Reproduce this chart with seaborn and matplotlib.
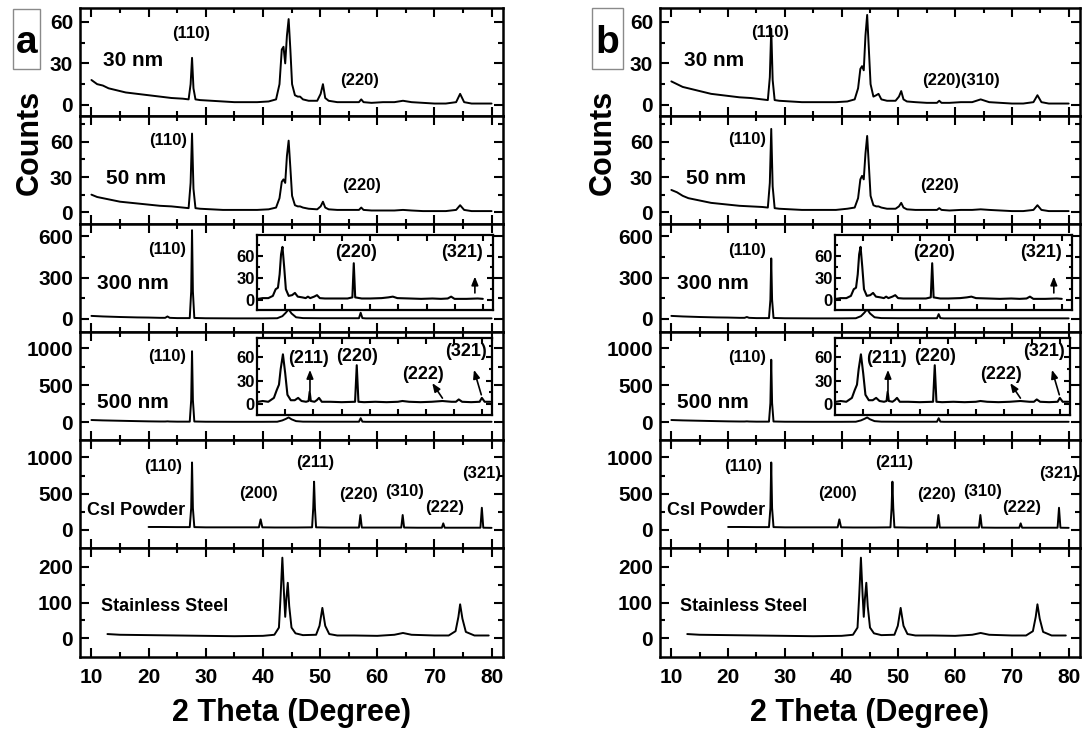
import matplotlib
matplotlib.use("Agg")
import matplotlib.pyplot as plt
import seaborn as sns
from matplotlib.patches import Rectangle
from matplotlib.ticker import FixedLocator

# ---------------- data ----------------
X_FILM = [10, 11, 12, 13, 14, 15, 16, 17, 18,
          20, 22, 24, 26,
          27.0, 27.35, 27.6, 27.85, 28.2,
          29, 31, 33, 35, 37, 39, 41,
          42.3, 42.9, 43.3, 43.6, 43.9, 44.2, 44.5, 44.8, 45.1, 45.6,
          46.1, 46.5, 47.0, 48, 49.5,
          50.1, 50.5, 50.9, 51.5,
          53, 55, 56.8, 57.2, 57.6,
          59, 61, 63, 64.5, 66, 68, 70, 72,
          73.8, 74.5, 75.2, 76.5, 78, 80]
Y_30NM_A = [18, 15, 14, 12, 11, 10, 9, 8.5, 8,
            7, 6, 5, 4.5,
            4, 15, 34, 12, 4,
            3.5, 3, 2.5, 2, 2, 2, 2.5,
            4, 15, 40, 42, 30, 50, 62, 40, 15, 7,
            6, 6, 4, 3, 3,
            8, 15, 5, 3,
            2, 2, 2, 4, 2,
            1.5, 2, 2, 3, 2, 1.5, 1, 1,
            2, 8, 2, 1, 1, 1]
Y_30NM_B = [17, 15, 13, 12, 11, 10, 9, 8, 7.5,
            6.5, 5.5, 5, 4,
            3.5, 20, 55, 18, 3.5,
            3, 2.5, 2, 2, 2, 2, 2.5,
            4, 12, 26, 28, 25, 50, 65, 40, 15, 6,
            7, 8, 4, 3, 3,
            6, 10, 4, 2.5,
            2, 1.5, 1.5, 3, 1.5,
            1.5, 2, 2, 4, 2, 1.5, 1, 1,
            2, 7, 2, 1, 1, 1]
Y_50NM_A = [15, 13, 12, 11, 10, 9, 8.5, 8, 7.5,
            6.5, 5.5, 5, 4,
            3.5, 25, 67, 20, 3.5,
            3, 2.5, 2, 2, 2, 2, 2.5,
            4, 12, 26, 28, 25, 48, 61, 38, 14, 6,
            5, 5, 4, 3, 2.5,
            5, 9, 4, 2.5,
            2, 2, 2, 4, 2,
            1.5, 1.5, 1.5, 2, 1.5, 1, 1, 1,
            2, 6, 2, 1, 1, 1]
Y_50NM_B = [19, 17, 14, 12, 11, 10, 9, 8, 7.5,
            6.5, 5.5, 5, 4.5,
            4, 25, 71, 22, 3.5,
            3, 2.5, 2, 2, 2, 2, 3,
            4, 12, 28, 31, 28, 50, 65, 40, 14, 6,
            5, 5, 4, 3, 3,
            5, 8, 4, 2.5,
            2, 2, 2, 3.5, 2,
            1.5, 2, 2, 2.5, 2, 1.5, 1, 1,
            2, 6, 2, 1, 1, 1]

X_THICK = [10, 12, 15, 18, 20, 22, 22.9, 23.3, 23.7, 25,
           27.2, 27.45, 27.6, 27.75, 28.0, 30, 35, 40, 42.5,
           43.4, 44.0, 44.5, 45.0, 45.8, 47, 50,
           56.8, 57.1, 57.4, 58, 65, 70, 75, 80]
Y_300NM_A = [22, 18, 14, 11, 10, 8, 8, 18, 8, 6,
             6, 200, 645, 200, 7, 5, 4, 4, 5,
             20, 45, 70, 40, 12, 6, 5,
             5, 45, 6, 4, 4, 4, 4, 4]
Y_300NM_B = [22, 18, 14, 11, 10, 8, 8, 14, 8, 6,
             6, 140, 440, 140, 7, 5, 4, 4, 5,
             20, 45, 70, 40, 12, 6, 5,
             5, 35, 6, 4, 4, 4, 4, 4]
Y_500NM_A = [30, 25, 20, 15, 12, 10, 10, 12, 10, 8,
             8, 300, 960, 300, 10, 7, 6, 6, 7,
             25, 45, 65, 40, 15, 8, 7,
             7, 55, 8, 6, 6, 6, 6, 6]
Y_500NM_B = [30, 25, 20, 15, 12, 10, 10, 12, 10, 8,
             8, 260, 845, 260, 10, 7, 6, 6, 7,
             25, 45, 65, 40, 15, 8, 7,
             7, 55, 8, 6, 6, 6, 6, 6]

X_CSI = [20, 22, 25, 27.2, 27.45, 27.6, 27.75, 28.0, 30, 35,
         39.3, 39.6, 39.9, 42, 46, 48.6, 48.8, 48.95, 49.1, 49.3,
         52, 56.8, 57.05, 57.3, 60, 64.2, 64.45, 64.7, 67,
         71.3, 71.55, 71.8, 75, 78.05, 78.3, 78.55, 80]
Y_CSI = [40, 40, 38, 38, 300, 930, 300, 38, 35, 35,
         35, 145, 35, 33, 33, 35, 300, 665, 300, 35,
         32, 32, 205, 32, 32, 32, 205, 32, 30,
         30, 90, 30, 30, 30, 305, 30, 28]

X_SS = [12.8, 15, 20, 25, 30, 35, 40,
        42.0, 42.8, 43.1, 43.4, 43.7, 43.9, 44.1, 44.35, 44.6, 45.0, 45.7,
        47, 49.3, 49.9, 50.4, 50.9, 51.6,
        53, 56, 60, 63, 64.5, 66, 70, 72.5,
        73.7, 74.2, 74.5, 74.9, 75.5, 77, 79.5]
Y_SS = [12, 10, 9, 8, 7, 6, 7,
        10, 30, 120, 225, 120, 60, 110, 155, 90, 30, 14,
        9, 10, 35, 85, 35, 12,
        8, 8, 7, 10, 15, 10, 8, 8,
        20, 60, 95, 55, 18, 8, 8]

X_IN300 = [40.2, 41, 42, 42.8, 43.3, 43.7, 44.0, 44.25, 44.5, 44.8,
           45.1, 45.6, 46.2, 46.7, 47.2, 48.0, 48.6, 49.0, 49.4,
           50.1, 50.6, 51.1, 52, 54, 56, 56.85, 57.1, 57.35,
           58.5, 60, 62, 63.2, 64.0, 64.8, 67, 69, 71, 72.5,
           73.7, 74.3, 74.9, 77, 79, 79.9]
Y_IN300 = [2, 3, 3, 6, 15, 17, 35, 62, 72, 45,
           15, 6, 7, 10, 5, 4, 3, 5, 3,
           5, 7, 3, 2.5, 2.5, 2.5, 4, 50, 4,
           2.5, 2.5, 3, 4, 5, 3, 2.5, 2, 2.5, 2,
           2.5, 5, 2, 2, 2.5, 2]
X_IN500 = [40.2, 41, 42, 43.0, 43.5, 43.9, 44.2, 44.6, 45.0, 45.4,
           46.0, 46.7, 47.3, 47.9, 48.7, 49.15, 49.35, 49.55,
           50.2, 50.6, 51.0, 51.5, 53, 55, 57.4, 57.7, 58.0,
           59, 61, 63, 65, 65.8, 67, 69, 71,
           72.9, 74.5, 75.3, 75.8, 76.4, 78, 79.5, 79.9, 80.4, 81.4]
Y_IN500 = [3, 4, 3, 8, 18, 25, 45, 64, 40, 12,
           5, 5, 8, 4, 3, 4, 16, 4,
           3, 5, 8, 3, 3, 2.5, 3, 50, 3,
           2.5, 3, 2.5, 3, 4, 3, 2.5, 3,
           4, 3, 3, 6, 3, 2.5, 3, 8, 3, 3]

X_MAJOR = [10, 20, 30, 40, 50, 60, 70, 80]
X_MINOR = [15, 25, 35, 45, 55, 65, 75]
INSET_X_TICKS = [45, 50, 55, 60, 65, 70, 75, 80]

ROW_YLIM = [(-8, 70), (-10, 82), (-95, 690), (-240, 1220), (-250, 1240), (-52, 252)]
ROW_YMAJOR = [[0, 30, 60], [0, 30, 60], [0, 300, 600], [0, 500, 1000], [0, 500, 1000], [0, 100, 200]]
ROW_YMINOR = [[15, 45], [15, 45, 75], [150, 450], [250, 750], [250, 750], [50, 150]]

TRACES = {
    "a": [(X_FILM, Y_30NM_A), (X_FILM, Y_50NM_A), (X_THICK, Y_300NM_A),
          (X_THICK, Y_500NM_A), (X_CSI, Y_CSI), (X_SS, Y_SS)],
    "b": [(X_FILM, Y_30NM_B), (X_FILM, Y_50NM_B), (X_THICK, Y_300NM_B),
          (X_THICK, Y_500NM_B), (X_CSI, Y_CSI), (X_SS, Y_SS)],
}

SAMPLE_LABELS = ["30 nm", "50 nm", "300 nm", "500 nm", "CsI Powder", "Stainless Steel"]
SAMPLE_POS = {
    "a": [(12.1, 32), (12.5, 28.5), (11, 260), (11, 265), (9.3, 265), (11.6, 88)],
    "b": [(12.2, 32), (12.5, 28.5), (11, 260), (11, 265), (9.3, 265), (11.6, 88)],
}
SAMPLE_SIZE = [15, 15, 15, 15, 13, 13]

PEAK_LABELS = {
    "a": [[("(110)", 27.4, 51.5), ("(220)", 56.9, 17.5)],
          [("(110)", 23.4, 61), ("(220)", 57.2, 23)],
          [("(110)", 23.3, 503)],
          [("(110)", 23.3, 886)],
          [("(110)", 22.5, 870), ("(200)", 39.3, 505), ("(211)", 49.2, 931),
           ("(220)", 56.8, 491), ("(310)", 64.8, 527), ("(222)", 71.8, 307),
           ("(321)", 78.2, 780)],
          []],
    "b": [[("(110)", 27.4, 52), ("(220)(310)", 61.1, 17.5)],
          [("(110)", 23.3, 62), ("(220)", 57.3, 23)],
          [("(110)", 23.3, 498)],
          [("(110)", 23.3, 880)],
          [("(110)", 22.6, 870), ("(200)", 39.3, 505), ("(211)", 49.2, 931),
           ("(220)", 56.8, 491), ("(310)", 64.8, 527), ("(222)", 71.8, 307),
           ("(321)", 78.2, 780)],
          []],
}

INSET_LABELS = {
    2: [("(220)", 57.5, 64), ("(321)", 76.3, 64)],
    3: [("(211)", 49.2, 58.7), ("(220)", 57.7, 61.7), ("(222)", 69.5, 38.7), ("(321)", 77.0, 68)],
}
INSET_ARROWS = {
    2: [((78.5, 32), (78.5, 10))],
    3: [((49.4, 44), (49.4, 17)), ((71.1, 27), (72.9, 7.7)), ((78.5, 44), (79.8, 12))],
}
INSET_DATA = {2: (X_IN300, Y_IN300, (-13, 88)), 3: (X_IN500, Y_IN500, (-14, 85))}

# ---------------- figure ----------------
sns.set_style("ticks")
plt.rcParams["font.family"] = ["Liberation Sans", "DejaVu Sans"]
plt.rcParams["font.weight"] = "bold"
plt.rcParams["axes.labelweight"] = "bold"
plt.rcParams["text.color"] = "black"
plt.rcParams["axes.labelcolor"] = "black"
plt.rcParams["xtick.color"] = "black"
plt.rcParams["ytick.color"] = "black"
plt.rcParams["axes.edgecolor"] = "black"

W, H = 1085, 734
fig = plt.figure(figsize=(W / 100, H / 100), dpi=100)


def fig_axes(x0, y0, x1, y1):
    return fig.add_axes([x0 / W, 1 - y1 / H, (x1 - x0) / W, (y1 - y0) / H])


ROW_EDGES = [8, 116, 224, 332, 440, 548, 657]
PANEL_X = {"a": (80, 503), "b": (660, 1080)}
INSET_BOX = {("a", 2): (257, 235, 493, 310), ("a", 3): (257, 338, 492, 415),
             ("b", 2): (835, 235, 1072, 310), ("b", 3): (835, 338, 1070, 415)}
LETTER_BOX = {"a": (12.7, 9, 40, 69), "b": (592, 8, 623, 69)}
COUNTS_X = {"a": 30, "b": 603}


def style(ax, xlim, ylim, ymaj, ymin, xmaj, xmin, labelbottom, lsize, pad, maj_len, min_len, spw):
    ax.set_xlim(*xlim)
    ax.set_ylim(*ylim)
    ax.xaxis.set_major_locator(FixedLocator(xmaj))
    ax.xaxis.set_minor_locator(FixedLocator(xmin))
    ax.yaxis.set_major_locator(FixedLocator(ymaj))
    ax.yaxis.set_minor_locator(FixedLocator(ymin))
    ax.tick_params(which="both", direction="in", top=True, right=True, width=1.5,
                   colors="black", labelcolor="black")
    ax.tick_params(which="major", length=maj_len)
    ax.tick_params(which="minor", length=min_len)
    ax.tick_params(axis="y", labelsize=lsize, pad=pad)
    ax.tick_params(axis="x", labelsize=lsize, pad=8, labelbottom=labelbottom)
    for s in ax.spines.values():
        s.set_linewidth(spw)
        s.set_color("black")
    ax.set_xlabel("")
    ax.set_ylabel("")
    ax.grid(False)


for panel in ["a", "b"]:
    x0, x1 = PANEL_X[panel]
    for r in range(6):
        ax = fig_axes(x0, ROW_EDGES[r], x1, ROW_EDGES[r + 1])
        xs, ys = TRACES[panel][r]
        sns.lineplot(x=xs, y=ys, ax=ax, color="black", linewidth=1.4)
        style(ax, (8, 82), ROW_YLIM[r], ROW_YMAJOR[r], ROW_YMINOR[r], X_MAJOR, X_MINOR,
              r == 5, 15, 5, 6.5, 3.5, 1.8)
        tx, ty = SAMPLE_POS[panel][r]
        ax.text(tx, ty, SAMPLE_LABELS[r], ha="left", va="center",
                fontsize=SAMPLE_SIZE[r], fontweight="bold", color="black")
        for s, lx, ly in PEAK_LABELS[panel][r]:
            ax.text(lx, ly, s, ha="center", va="center", fontsize=12,
                    fontweight="bold", color="black")

        if r in (2, 3):
            bx0, by0, bx1, by1 = INSET_BOX[(panel, r)]
            ins = fig_axes(bx0, by0, bx1, by1)
            ixs, iys, iylim = INSET_DATA[r]
            sns.lineplot(x=ixs, y=iys, ax=ins, color="black", linewidth=1.5)
            style(ins, (40, 81.7), iylim, [0, 30, 60], [15, 45, 75], INSET_X_TICKS, [],
                  False, 12, 1.5, 4, 2.5, 1.6)
            ins.set_facecolor("white")
            for s, lx, ly in INSET_LABELS[r]:
                ins.text(lx, ly, s, ha="center", va="center", fontsize=13,
                         fontweight="bold", color="black")
            for head, tail in INSET_ARROWS[r]:
                ins.annotate("", xy=head, xytext=tail,
                             arrowprops=dict(arrowstyle="-|>,head_length=0.5,head_width=0.2",
                                             lw=1.2, color="black", shrinkA=0, shrinkB=0))

    # letter box
    lx0, ly0, lx1, ly1 = LETTER_BOX[panel]
    fig.patches.append(Rectangle((lx0 / W, 1 - ly1 / H), (lx1 - lx0) / W, (ly1 - ly0) / H,
                                 transform=fig.transFigure, fill=False,
                                 edgecolor="#8a8a8a", linewidth=1.0))
    fig.text((lx0 + lx1) / 2 / W, 1 - 53 / H, panel, ha="center", va="baseline",
             fontsize=28, fontweight="bold", color="black")
    fig.text(COUNTS_X[panel] / W, 1 - 142 / H, "Counts", rotation=90, ha="center",
             va="center", fontsize=22, fontweight="bold", color="black")
    fig.text((x0 + x1) / 2 / W, 1 - 713 / H, "2 Theta (Degree)", ha="center",
             va="center", fontsize=22, fontweight="bold", color="black")

fig.savefig("out.png", dpi=100)
